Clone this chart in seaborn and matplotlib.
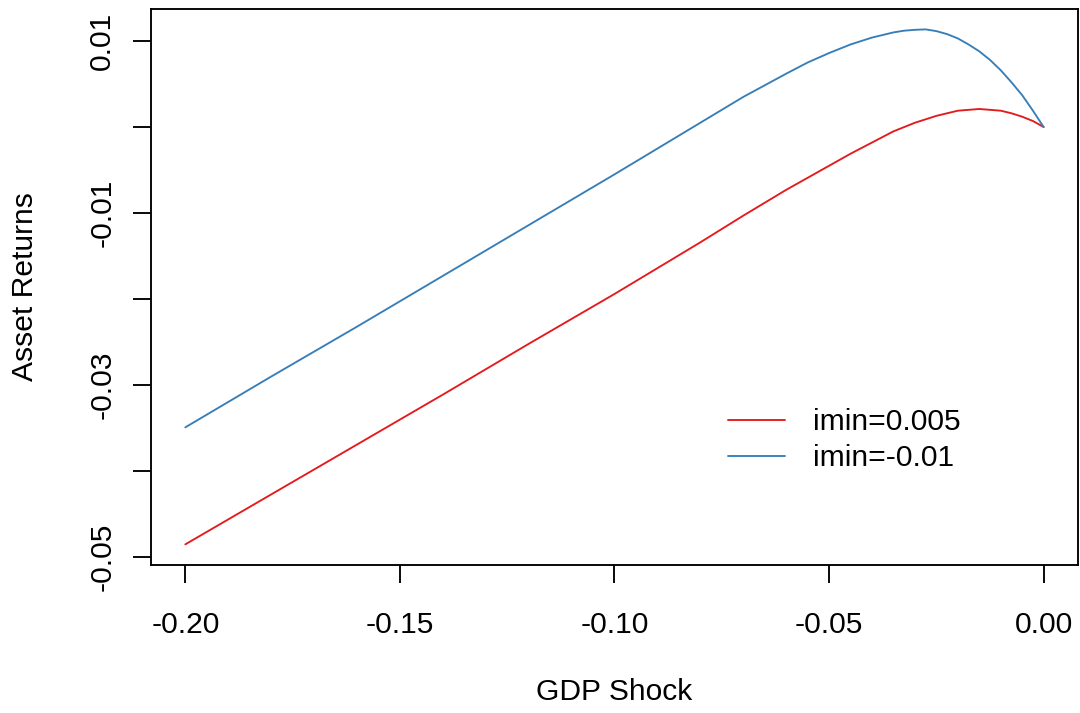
import pandas as pd
import seaborn as sns
import matplotlib.pyplot as plt

# values
gdp_shock = [-0.200, -0.180, -0.160, -0.140, -0.120, -0.100, -0.090, -0.080,
             -0.070, -0.060, -0.055, -0.050, -0.045, -0.040, -0.035, -0.0325,
             -0.030, -0.0275, -0.025, -0.0225, -0.020, -0.0175, -0.015, -0.0125,
             -0.010, -0.0075, -0.005, -0.0025, 0.000]
ret_imin_0005 = [-0.0485, -0.0427, -0.0369, -0.0311, -0.0252, -0.0194, -0.0164, -0.0134,
                 -0.0103, -0.0073, -0.0059, -0.0045, -0.0031, -0.0018, -0.0005, 0.0000,
                 0.0005, 0.0009, 0.0013, 0.0016, 0.0019, 0.0020, 0.0021, 0.0020,
                 0.0019, 0.0016, 0.0012, 0.0007, 0.0000]
ret_imin_m001 = [-0.0349, -0.0290, -0.0232, -0.0173, -0.0114, -0.0055, -0.0025, 0.0005,
                 0.0035, 0.0062, 0.0075, 0.0086, 0.0096, 0.0104, 0.0110, 0.0112,
                 0.0113, 0.01135, 0.01115, 0.0108, 0.0103, 0.0096, 0.0088, 0.0078,
                 0.0066, 0.0052, 0.0037, 0.0019, 0.0000]
series_labels = ["imin=0.005", "imin=-0.01"]
series_colors = ["#E41A1C", "#377EB8"]

xticks = [-0.20, -0.15, -0.10, -0.05, 0.00]
xtick_labels = ["-0.20", "-0.15", "-0.10", "-0.05", "0.00"]
yticks = [0.01, 0.00, -0.01, -0.02, -0.03, -0.04, -0.05]
ytick_labels = ["0.01", "", "-0.01", "", "-0.03", "", "-0.05"]

df = pd.concat([
    pd.DataFrame({"GDP Shock": gdp_shock, "Asset Returns": ret_imin_0005, "series": series_labels[0]}),
    pd.DataFrame({"GDP Shock": gdp_shock, "Asset Returns": ret_imin_m001, "series": series_labels[1]}),
])

sns.set_style("ticks")
plt.rcParams['font.family'] = ['Liberation Sans', 'DejaVu Sans']
plt.rcParams['text.color'] = 'black'
plt.rcParams['axes.labelcolor'] = 'black'
fs = 21.6
lw = 1.35

fig = plt.figure(figsize=(10.8, 7.13), dpi=100)
ax = fig.add_axes([151 / 1080, 1 - 565 / 713, 927 / 1080, 556 / 713])

sns.lineplot(data=df, x="GDP Shock", y="Asset Returns", hue="series",
             hue_order=series_labels, palette=series_colors, linewidth=lw,
             sort=False, ax=ax)

ax.set_xlim(-0.208, 0.008)
ax.set_ylim(-0.0509, 0.01372)
ax.set_xticks(xticks)
ax.set_xticklabels(xtick_labels)
ax.set_yticks(yticks)
ax.set_yticklabels(ytick_labels, rotation=90, va="center")

for s in ax.spines.values():
    s.set_visible(True)
    s.set_color("black")
    s.set_linewidth(lw)

ax.tick_params(axis="both", length=13, width=lw, color="black", labelsize=fs, labelcolor="black")
ax.tick_params(axis="x", pad=20)
ax.tick_params(axis="y", pad=12)

ax.set_xlabel("GDP Shock", fontsize=fs, color="black")
ax.set_ylabel("Asset Returns", fontsize=fs, color="black")
ax.xaxis.set_label_coords(0.5, -0.203)
ax.yaxis.set_label_coords(-0.1204, 0.5)

ax.legend(handles=ax.get_legend_handles_labels()[0], labels=series_labels,
          frameon=False, fontsize=fs, loc="upper left",
          bbox_to_anchor=(728 / 1080, 1 - 408 / 713), bbox_transform=fig.transFigure,
          borderpad=0, borderaxespad=0, handlelength=1.9, handletextpad=0.93,
          labelspacing=0.28)

fig.savefig("out.png", dpi=100)
